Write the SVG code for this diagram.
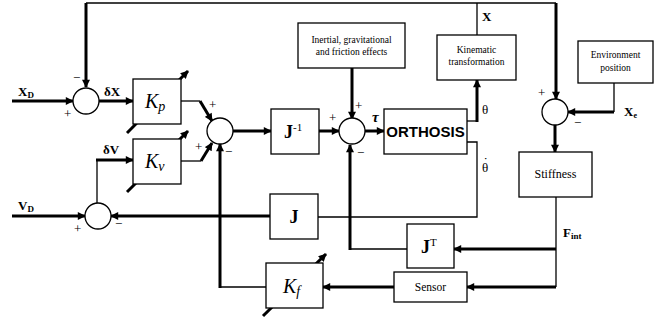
<svg xmlns="http://www.w3.org/2000/svg" width="667" height="322" viewBox="0 0 667 322">
<defs>
<marker id="ah" viewBox="0 0 10 10" refX="9" refY="5" markerWidth="9" markerHeight="8" markerUnits="userSpaceOnUse" orient="auto">
<path d="M0,0 L10,5 L0,10 z" fill="#000"/>
</marker>
</defs>
<style>
.thin{fill:none;stroke:#000;stroke-width:1.3}
.thick{fill:none;stroke:#000;stroke-width:3;marker-end:url(#ah)}
.box{fill:#fff;stroke:#000;stroke-width:1.3}
.sum{fill:#fff;stroke:#000;stroke-width:1.3}
.t{font-family:"Liberation Serif",serif;fill:#000}
.b{font-weight:bold}
.s{font-size:13px}
.sg{font-family:"Liberation Serif",serif;font-size:13px;fill:#000}
.sm{font-size:9.5px;text-anchor:middle}
</style>
<rect width="667" height="322" fill="#fff"/>
<g id="connectors">
<path class="thin" d="M86,3 H556"/>
<path class="thin" d="M477,35 V3"/>
<path class="thick" d="M86,3 V87"/>
<path class="thick" d="M556,3 V99"/>
<path class="thick" d="M12,101 H73"/>
<path class="thick" d="M99,101 H133"/>
<path class="thin" d="M181,101 H200"/>
<path class="thick" d="M200,101 L212,121"/>
<path class="thin" d="M181,161 H201"/>
<path class="thick" d="M201,161 L212,143"/>
<path class="thick" d="M233,131 H271"/>
<path class="thick" d="M319,131 H339"/>
<path class="thick" d="M352,68 V119"/>
<path class="thick" d="M365,131 H384"/>
<path class="thin" d="M467,121 H477"/>
<path class="thick" d="M477,122 V80"/>
<path class="thin" d="M467,142 H477 V217 H318"/>
<path class="thick" d="M270,216 H111"/>
<path class="thick" d="M12,216 H85"/>
<path class="thin" d="M97,203 V160"/>
<path class="thick" d="M96,160 H133"/>
<path class="thin" d="M220,287 H266"/>
<path class="thick" d="M220,288 V144"/>
<path class="thick" d="M394,287 H323"/>
<path class="thin" d="M407,249 H350"/>
<path class="thick" d="M350,250 V145"/>
<path class="thin" d="M556,197 V287"/>
<path class="thick" d="M556,249 H454"/>
<path class="thick" d="M556,287 H467"/>
<path class="thin" d="M614,83 V112"/>
<path class="thick" d="M614,112 H568"/>
<path class="thick" d="M555,125 V152"/>
</g>
<g id="sum1"><circle class="sum" cx="86" cy="101" r="13"/>
<text class="sg" x="73" y="82">−</text><text class="sg" x="64" y="118">+</text></g>
<g id="sum2"><circle class="sum" cx="220" cy="131" r="13"/>
<text class="sg" x="209" y="109">+</text><text class="sg" x="195" y="151">+</text><text class="sg" x="225" y="156">−</text></g>
<g id="sum3"><circle class="sum" cx="98" cy="216" r="13"/>
<text class="sg" x="74" y="233">+</text><text class="sg" x="115" y="228">−</text></g>
<g id="sum4"><circle class="sum" cx="352" cy="131" r="13"/>
<text class="sg" x="329" y="122">+</text><text class="sg" x="355" y="110">+</text><text class="sg" x="357" y="157">−</text></g>
<g id="sum5"><circle class="sum" cx="555" cy="112" r="13"/>
<text class="sg" x="538" y="97">+</text><text class="sg" x="574" y="127">−</text></g>
<g id="Kp"><path class="thick" d="M127,133 L188,71"/>
<rect class="box" x="133" y="79" width="48" height="45"/>
<text class="t" x="145" y="108" font-size="20" font-style="italic">K<tspan font-size="14" dy="3">p</tspan></text></g>
<g id="Kv"><path class="thick" d="M127,192 L188,131"/>
<rect class="box" x="133" y="139" width="48" height="45"/>
<text class="t" x="145" y="168" font-size="20" font-style="italic">K<tspan font-size="14" dy="3">v</tspan></text></g>
<g id="Kf"><path class="thick" d="M263,316 L326,254"/>
<rect class="box" x="266" y="263" width="57" height="45"/>
<text class="t" x="283" y="293" font-size="20" font-style="italic">K<tspan font-size="14" dy="3">f</tspan></text></g>
<g id="Jinv"><rect class="box" x="271" y="109" width="48" height="45"/>
<text class="t b" x="284" y="138" font-size="18">J<tspan font-size="11" font-weight="normal" dy="-7">-1</tspan></text></g>
<g id="J"><rect class="box" x="270" y="194" width="48" height="45"/>
<text class="t b" x="294" y="223" font-size="18" text-anchor="middle">J</text></g>
<g id="JT"><rect class="box" x="407" y="224" width="47" height="44"/>
<text class="t b" x="421" y="253" font-size="18">J<tspan font-size="11" font-weight="normal" dy="-7">T</tspan></text></g>
<g id="inertial"><rect class="box" x="298" y="23" width="107" height="45"/>
<text class="t sm" x="351.5" y="43">Inertial, gravitational</text>
<text class="t sm" x="351.5" y="55">and friction effects</text></g>
<g id="orthosis"><rect class="box" x="384" y="109" width="83" height="45"/>
<text x="425.5" y="137" font-family="Liberation Sans,Arial,sans-serif" font-weight="bold" font-size="15" text-anchor="middle">ORTHOSIS</text></g>
<g id="kinematic"><rect class="box" x="437" y="35" width="79" height="45"/>
<text class="t sm" x="476.5" y="53" font-size="9">Kinematic</text>
<text class="t sm" x="476.5" y="65" font-size="9">transformation</text></g>
<g id="environment"><rect class="box" x="578" y="41" width="75" height="42"/>
<text class="t sm" x="615.5" y="58">Environment</text>
<text class="t sm" x="615.5" y="71">position</text></g>
<g id="stiffness"><rect class="box" x="519" y="152" width="73" height="45"/>
<text class="t" x="555.5" y="178" font-size="12" text-anchor="middle">Stiffness</text></g>
<g id="sensor"><rect class="box" x="394" y="272" width="73" height="30"/>
<text class="t" x="430.5" y="291" font-size="11.5" text-anchor="middle">Sensor</text></g>
<g id="labels">
<text class="t b s" x="18" y="96">X<tspan font-size="9" dy="2">D</tspan></text>
<text class="t b s" x="104" y="96">δX</text>
<text class="t b s" x="103" y="154">δV</text>
<text class="t b s" x="18" y="210">V<tspan font-size="9" dy="2">D</tspan></text>
<text class="t b" x="372" y="122" font-size="15" font-style="italic">τ</text>
<text class="t b s" x="482" y="21">X</text>
<text class="t" x="482" y="114" font-size="13">θ</text>
<text class="t" font-size="13"><tspan x="483.5" y="166">˙</tspan><tspan x="482" y="172">θ</tspan></text>
<text class="t b s" x="624" y="116">X<tspan font-size="8" dy="2">e</tspan></text>
<text class="t b s" x="563" y="237">F<tspan font-size="9" dy="2">int</tspan></text>
</g>
</svg>
